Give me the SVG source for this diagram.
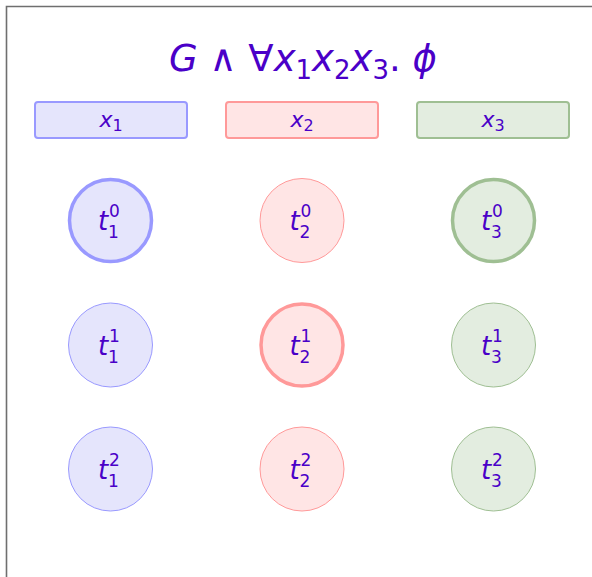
<svg xmlns="http://www.w3.org/2000/svg" width="592" height="577" viewBox="0 0 592 577">
<style>
text{font-family:"DejaVu Sans","Liberation Sans",sans-serif;fill:#4a00c8}
.i{font-style:italic}
.lbl{font-size:26px}
.sub{font-size:17px}
.b{fill:#e5e5fc;stroke:#9999ff}
.r{fill:#ffe5e5;stroke:#ff9999}
.g{fill:#e3ede0;stroke:#9fbf93}
.thin{stroke-width:1}
.thick{stroke-width:3.5}
.box{stroke-width:2}
</style>
<rect x="0" y="0" width="592" height="577" fill="#fff"/>
<path d="M6.5 577 V6.5 H592" fill="none" stroke="#6f6f6f" stroke-width="1.6"/>
<g id="title">
<text x="303" y="71" text-anchor="middle" font-size="37"><tspan class="i">G</tspan> ∧ ∀<tspan class="i">x</tspan><tspan font-size="26" dy="8">1</tspan><tspan class="i" dy="-8">x</tspan><tspan font-size="26" dy="8">2</tspan><tspan class="i" dy="-8">x</tspan><tspan font-size="26" dy="8">3</tspan><tspan dy="-8">. </tspan><tspan class="i">ϕ</tspan></text>
</g>
<g id="var_x1"><rect class="b box" x="35" y="102" width="152" height="36" rx="3"/><text x="111" y="127" text-anchor="middle" font-size="22"><tspan class="i">x</tspan><tspan font-size="16" dy="4">1</tspan></text></g>
<g id="var_x2"><rect class="r box" x="226" y="102" width="152" height="36" rx="3"/><text x="302" y="127" text-anchor="middle" font-size="22"><tspan class="i">x</tspan><tspan font-size="16" dy="4">2</tspan></text></g>
<g id="var_x3"><rect class="g box" x="417" y="102" width="152" height="36" rx="3"/><text x="493" y="127" text-anchor="middle" font-size="22"><tspan class="i">x</tspan><tspan font-size="16" dy="4">3</tspan></text></g>

<g id="t1_0"><circle class="b thick" cx="110.5" cy="220.5" r="41"/><text class="lbl" x="98" y="230"><tspan class="i">t</tspan></text><text class="sub" x="109" y="217">0</text><text class="sub" x="108" y="238">1</text></g>
<g id="t1_1"><circle class="b thin" cx="110.5" cy="345" r="42"/><text class="lbl" x="98" y="354.5"><tspan class="i">t</tspan></text><text class="sub" x="109" y="341.5">1</text><text class="sub" x="108" y="362.5">1</text></g>
<g id="t1_2"><circle class="b thin" cx="110.5" cy="469" r="42"/><text class="lbl" x="98" y="478.5"><tspan class="i">t</tspan></text><text class="sub" x="109" y="465.5">2</text><text class="sub" x="108" y="486.5">1</text></g>

<g id="t2_0"><circle class="r thin" cx="302" cy="220.5" r="42"/><text class="lbl" x="289.5" y="230"><tspan class="i">t</tspan></text><text class="sub" x="300.5" y="217">0</text><text class="sub" x="299.5" y="238">2</text></g>
<g id="t2_1"><circle class="r thick" cx="302" cy="345" r="41"/><text class="lbl" x="289.5" y="354.5"><tspan class="i">t</tspan></text><text class="sub" x="300.5" y="341.5">1</text><text class="sub" x="299.5" y="362.5">2</text></g>
<g id="t2_2"><circle class="r thin" cx="302" cy="469" r="42"/><text class="lbl" x="289.5" y="478.5"><tspan class="i">t</tspan></text><text class="sub" x="300.5" y="465.5">2</text><text class="sub" x="299.5" y="486.5">2</text></g>

<g id="t3_0"><circle class="g thick" cx="493.5" cy="220.5" r="41"/><text class="lbl" x="481" y="230"><tspan class="i">t</tspan></text><text class="sub" x="492" y="217">0</text><text class="sub" x="491" y="238">3</text></g>
<g id="t3_1"><circle class="g thin" cx="493.5" cy="345" r="42"/><text class="lbl" x="481" y="354.5"><tspan class="i">t</tspan></text><text class="sub" x="492" y="341.5">1</text><text class="sub" x="491" y="362.5">3</text></g>
<g id="t3_2"><circle class="g thin" cx="493.5" cy="469" r="42"/><text class="lbl" x="481" y="478.5"><tspan class="i">t</tspan></text><text class="sub" x="492" y="465.5">2</text><text class="sub" x="491" y="486.5">3</text></g>
<g id="connectors"/>
</svg>
